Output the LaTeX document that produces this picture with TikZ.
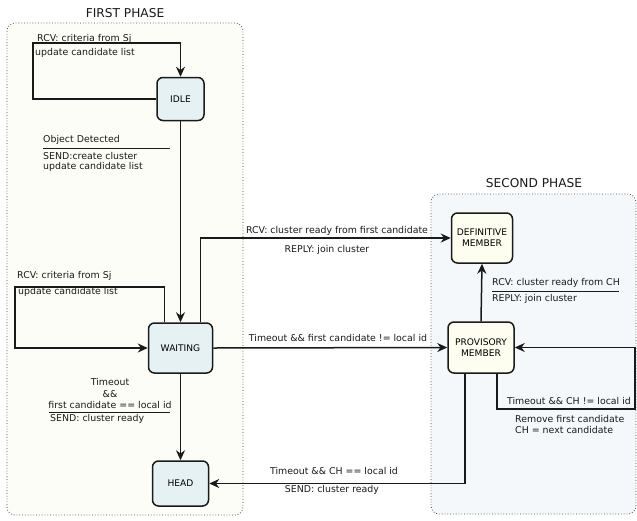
\documentclass[tikz,border=0pt]{standalone}
\usepackage{fontspec}
\setmainfont{DejaVu Sans}
\usetikzlibrary{arrows.meta}
\definecolor{phaseA}{HTML}{FDFDF8}
\definecolor{phaseB}{HTML}{F4F8FB}
\definecolor{nodeA}{HTML}{E6F1F4}
\definecolor{nodeB}{HTML}{FDFDF0}
\definecolor{ink}{HTML}{1A1A1A}
\tikzset{
  phase/.style={draw=ink!80, dotted, line width=0.8pt, rounded corners=8pt},
  state/.style={draw=ink, line width=1.5pt, rounded corners=6pt, align=center,
    inner sep=0pt, font=\fontsize{9.1}{11}\selectfont},
  arr/.style={draw=ink, line width=1.5pt, -{Stealth[length=10pt,width=9pt]}},
  lbl/.style={inner sep=0pt, font=\fontsize{9.4}{11}\selectfont, text=ink,
    text height=7pt, text depth=2pt},
  title/.style={inner sep=0pt, font=\fontsize{12.2}{14}\selectfont, text=ink},
  rule/.style={draw=ink, line width=0.9pt}
}
\begin{document}
\begin{tikzpicture}[x=1pt,y=-1pt]
\useasboundingbox (0,0) rectangle (637,520);
% phases
\path[phase, fill=phaseA] (7,23) rectangle (243,515);
\path[phase, fill=phaseB] (431,194) rectangle (636,514);
\node[title] (t1) at (125,13) {FIRST PHASE};
\node[title] (t2) at (534,183) {SECOND PHASE};
% states
\node[state, fill=nodeA, minimum width=47pt, minimum height=43pt] (idle) at (180.5,99) {IDLE};
\node[state, fill=nodeA, minimum width=64pt, minimum height=50pt] (wait) at (180.5,348) {WAITING};
\node[state, fill=nodeA, minimum width=56pt, minimum height=45pt] (head) at (180.5,483.5) {HEAD};
\node[state, fill=nodeB, minimum width=61pt, minimum height=50pt] (def) at (482,238) {DEFINITIVE\\MEMBER};
\node[state, fill=nodeB, minimum width=66pt, minimum height=51pt] (prov) at (481,347.5) {PROVISORY\\MEMBER};
% corner coordinates
\coordinate (c1) at (33,43);
\coordinate (c2) at (15,287);
\coordinate (c3) at (635,409);
% connectors
\draw[arr] (idle.west) -| (c1) -| (idle.north);
\draw[arr] (idle.south) -- (wait.north);
\draw[arr] ([xshift=-16pt]wait.north) |- (c2) |- (wait.west);
\draw[arr] ([xshift=20pt]wait.north) |- (def.west);
\draw[arr] (wait.east) -- (prov.west);
\draw[arr] (wait.south) -- (head.north);
\draw[arr] (prov.north) -- (def.south);
\draw[arr] ([xshift=16pt]prov.south) |- (c3) |- (prov.east);
\draw[arr] ([xshift=-16pt]prov.south) |- (head.east);
% labels
\node[lbl, anchor=west] (l1) at (37,39) {RCV: criteria from Sj};
\node[lbl, anchor=west] (l2) at (35,53) {update candidate list};
\node[lbl, anchor=west] (l3) at (43,140) {Object Detected};
\draw[rule] (43,148) -- (170,148);
\node[lbl, anchor=west] (l4) at (43,157) {SEND:create cluster};
\node[lbl, anchor=west] (l5) at (43,167) {update candidate list};
\node[lbl, anchor=west] (l6) at (17,276) {RCV: criteria from Sj};
\node[lbl, anchor=west] (l7) at (18,292) {update candidate list};
\node[lbl] (l8) at (337,231) {RCV: cluster ready from first candidate};
\node[lbl] (l9) at (327,250) {REPLY: join cluster};
\node[lbl] (l10) at (338,338.5) {Timeout \&\& first candidate != local id};
\node[lbl] (l11) at (110,383) {Timeout};
\node[lbl] (l12) at (110,395) {\&\&};
\node[lbl] (l13) at (110,405.5) {first candidate == local id};
\draw[rule] (49,412) -- (170,412);
\node[lbl, anchor=west] (l14) at (50,419) {SEND: cluster ready};
\node[lbl, anchor=west] (l15) at (492,283) {RCV: cluster ready from CH};
\draw[rule] (492,291) -- (619,291);
\node[lbl, anchor=west] (l16) at (492,298.5) {REPLY: join cluster};
\node[lbl] (l17) at (569,401.5) {Timeout \&\& CH != local id};
\node[lbl, anchor=west] (l18) at (515,419.5) {Remove first candidate};
\node[lbl, anchor=west] (l19) at (515,430.5) {CH = next candidate};
\node[lbl] (l20) at (334,472) {Timeout \&\& CH == local id};
\node[lbl] (l21) at (332,490) {SEND: cluster ready};
\end{tikzpicture}
\end{document}
